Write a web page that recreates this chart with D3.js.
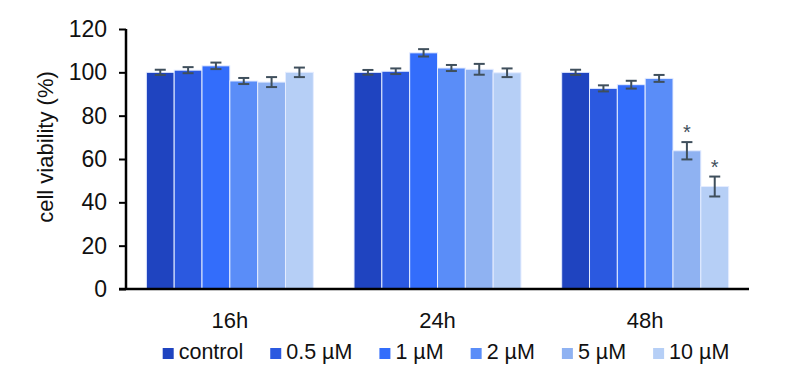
<!DOCTYPE html>
<html>
<head>
<meta charset="utf-8">
<script src="https://cdn.jsdelivr.net/npm/d3@7"></script>
<style>
  body { margin: 0; background: #fff; }
  text { font-family: "Liberation Sans", Arial, sans-serif; fill: #111; }
</style>
</head>
<body>
<svg id="chart" width="804" height="377"></svg>
<script>
let times = ['16h', '24h', '48h'];
let doses = ['control', '0.5 µM', '1 µM', '2 µM', '5 µM', '10 µM'];
let colors = ['#1f44c0', '#2b59e0', '#336dfb', '#5a8df8', '#8fb2f2', '#b6cff6'];
// viability (%) per time point, one value per dose
let v16 = [100, 101, 103, 96, 95.5, 100];
let v24 = [100, 100.5, 109, 102, 101.4, 99.8];
let v48 = [100, 92.6, 94.3, 97.2, 63.8, 47.3];
// error bars
let e16 = [1.2, 1.4, 1.5, 1.4, 2.3, 2.2];
let e24 = [1.1, 1.3, 1.7, 1.4, 2.5, 2.0];
let e48 = [1.2, 1.4, 1.8, 1.6, 4.0, 4.6];
// significance marks
let s48 = ['', '', '', '', '*', '*'];
let yTicks = [0, 20, 40, 60, 80, 100, 120];

let values = [v16, v24, v48];
let errors = [e16, e24, e48];
let stars = [[], [], s48];

let margin = {top: 29, left: 126, right: 55, bottom: 88};
let svgWidth = 804, svgHeight = 377;
let width = svgWidth - margin.left - margin.right;
let height = svgHeight - margin.top - margin.bottom;

let svg = d3.select('#chart');
let g = svg.append('g').attr('transform', `translate(${margin.left},${margin.top})`);

let x0 = d3.scaleBand().domain(times).range([0, width]).paddingInner(0.196).paddingOuter(0.098);
let x1 = d3.scaleBand().domain(doses).range([0, x0.bandwidth()]);
let y = d3.scaleLinear().domain([0, 120]).range([height, 0]);

let rows = [];
times.forEach((t, i) => {
    doses.forEach((d, j) => {
        rows.push({time: t, dose: d, value: values[i][j], err: errors[i][j], star: stars[i][j] || '', color: colors[j]});
    });
});

// bars
g.append('g').selectAll('rect')
    .data(rows).enter().append('rect')
    .attr('x', d => x0(d.time) + x1(d.dose))
    .attr('y', d => y(d.value))
    .attr('width', x1.bandwidth())
    .attr('height', d => height - y(d.value))
    .attr('fill', d => d.color)
    .attr('stroke', '#e4ecff')
    .attr('stroke-width', 1);

// error bars
let eb = g.append('g').attr('stroke', '#3f4f5c').attr('stroke-width', 2);
rows.forEach(d => {
    let cx = x0(d.time) + x1(d.dose) + x1.bandwidth() / 2;
    eb.append('line').attr('x1', cx).attr('x2', cx).attr('y1', y(d.value + d.err)).attr('y2', y(d.value - d.err));
    eb.append('line').attr('x1', cx - 5.5).attr('x2', cx + 5.5).attr('y1', y(d.value + d.err)).attr('y2', y(d.value + d.err));
    eb.append('line').attr('x1', cx - 5.5).attr('x2', cx + 5.5).attr('y1', y(d.value - d.err)).attr('y2', y(d.value - d.err));
});

g.append('g').selectAll('text')
    .data(rows.filter(d => d.star)).enter().append('text')
    .attr('x', d => x0(d.time) + x1(d.dose) + x1.bandwidth() / 2)
    .attr('y', d => y(d.value + d.err) - 3)
    .attr('text-anchor', 'middle')
    .attr('font-size', '20px')
    .style('fill', '#3f4f5c')
    .text(d => d.star);

// y axis
let yAxis = g.append('g')
    .call(d3.axisLeft(y).tickValues(yTicks).tickSize(7).tickPadding(12));
yAxis.select('.domain').attr('stroke', '#000').attr('stroke-width', 2.5).attr('d', `M0,${height}V0`);
yAxis.selectAll('.tick line').attr('stroke', '#000').attr('stroke-width', 2);
yAxis.selectAll('.tick text').attr('font-size', '23px').style('font-family', '"Liberation Sans", Arial, sans-serif').style('fill', '#111');

// x axis
let xAxis = g.append('g')
    .attr('transform', `translate(0,${height})`)
    .call(d3.axisBottom(x0).tickSize(0).tickPadding(23));
xAxis.select('.domain').attr('stroke', '#000').attr('stroke-width', 2.5).attr('d', `M-7,0H${width}`);
xAxis.selectAll('.tick text').attr('font-size', '22px').style('font-family', '"Liberation Sans", Arial, sans-serif').style('fill', '#111');

// y label
svg.append('text')
    .attr('transform', 'translate(53,147) rotate(-90)')
    .attr('text-anchor', 'middle')
    .attr('font-size', '22px')
    .text('cell viability (%)');

// legend
let legend = svg.append('g');
let lx = 0;
let gap = 27;
doses.forEach((d, j) => {
    let item = legend.append('g').attr('transform', `translate(${lx},0)`);
    item.append('rect').attr('x', 0).attr('y', -11).attr('width', 11).attr('height', 11).attr('fill', colors[j]);
    let t = item.append('text').attr('x', 16).attr('y', 0).attr('font-size', '21.5px').text(d);
    lx += 16 + t.node().getComputedTextLength() + gap;
});
let legendW = lx - gap;
legend.attr('transform', `translate(${446 - legendW / 2},359)`);
</script>
</body>
</html>
